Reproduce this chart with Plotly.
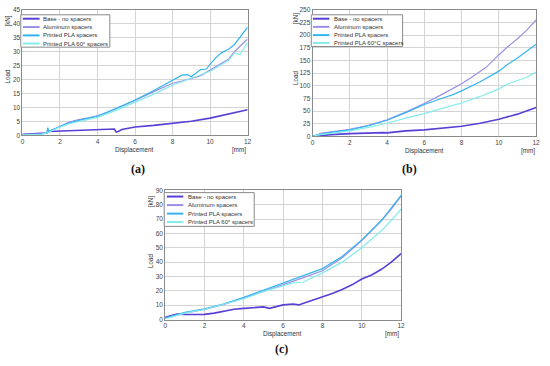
import plotly.graph_objects as go

W, H = 550, 366

names_a = ["Base - no spacers", "Aluminum spacers", "Printed PLA spacers", "Printed PLA 60° spacers"]
names_b = ["Base - no spacers", "Aluminum spacers", "Printed PLA spacers", "Printed PLA 60°C spacers"]
names_c = ["Base - no spacers", "Aluminum spacers", "Printed PLA spacers", "Printed PLA 60° spacers"]
colors = ["#5a3fd6", "#9b8fe3", "#35b4f0", "#84ecec"]
widths = [1.6, 1.2, 1.2, 1.2]

# ---- (a) ----
a_base_x = [0, 0.5, 1, 1.3, 1.4, 2, 3, 4, 4.8, 4.9, 5.0, 5.1, 5.3, 5.6, 6, 7, 8, 9, 10, 11, 12]
a_base_y = [0.4, 0.5, 0.7, 0.9, 1.4, 1.6, 1.9, 2.2, 2.5, 2.3, 1.2, 1.4, 2.1, 2.6, 3.0, 3.6, 4.3, 5.1, 6.2, 7.6, 9.2]
a_alu_x = [0, 0.5, 1, 1.3, 1.5, 2, 2.5, 3, 3.5, 4, 4.5, 5, 6, 7, 8, 8.5, 9, 9.3, 9.6, 10, 10.3, 10.6, 11, 11.3, 11.5, 11.8, 12]
a_alu_y = [0.3, 0.5, 0.6, 1.0, 1.7, 3.3, 4.8, 5.7, 6.3, 7.0, 8.2, 9.6, 12.5, 15.7, 18.7, 19.5, 20.4, 21.0, 21.8, 23.4, 24.3, 25.8, 27.4, 30.0, 31.2, 33.3, 34.6]
a_pla_x = [0, 0.5, 1, 1.3, 1.35, 1.4, 2, 2.5, 3, 3.5, 4, 5, 6, 7, 8, 8.5, 8.8, 9, 9.5, 9.8, 10, 10.3, 10.6, 11, 11.3, 11.6, 12]
a_pla_y = [0.2, 0.4, 0.5, 1.0, 2.8, 1.5, 3.2, 4.5, 5.4, 6.2, 6.9, 9.7, 12.7, 16.1, 19.6, 21.6, 21.8, 21.0, 23.6, 23.8, 25.5, 27.8, 29.6, 31.0, 32.6, 35.3, 38.8]
a_p60_x = [0, 0.5, 1, 1.3, 1.5, 2, 2.5, 3, 4, 5, 6, 7, 8, 9, 9.5, 10, 10.5, 11, 11.3, 11.6, 12]
a_p60_y = [0.2, 0.3, 0.4, 0.9, 1.5, 3.0, 4.2, 5.0, 6.5, 9.0, 11.8, 14.8, 18.0, 20.5, 21.8, 23.0, 25.0, 27.0, 29.6, 29.0, 33.3]

# ---- (b) ----
b_base_x = [0, 0.5, 1, 2, 3, 3.8, 4, 4.3, 5, 6, 7, 8, 9, 10, 11, 12]
b_base_y = [0, 2.5, 3.5, 5.5, 7.0, 7.5, 7.0, 8.5, 11, 13, 16, 20, 26, 34, 44, 57]
b_alu_x = [0, 0.5, 1, 2, 3, 4, 5, 6, 7, 8, 8.5, 9, 9.3, 10, 10.5, 11, 11.5, 12]
b_alu_y = [0, 6.5, 9, 14, 22, 33, 48, 65, 84, 104, 116, 129, 136, 161, 178, 193, 210, 230]
b_pla_x = [0, 0.5, 1, 2, 3, 4, 5, 6, 7, 7.5, 8, 9, 10, 10.5, 11, 11.5, 12]
b_pla_y = [0, 5, 8, 13, 21, 32, 47, 63, 76, 82, 90, 108, 129, 143, 155, 168, 182]
b_p60_x = [0, 0.5, 1, 2, 3, 4, 5, 6, 7, 8, 9, 10, 10.5, 11, 11.5, 12]
b_p60_y = [0, 4, 6, 11, 18, 26, 36, 45, 56, 66, 79, 94, 104, 111, 117, 127]

# ---- (c) ----
c_base_x = [0, 0.3, 0.6, 1, 1.5, 2, 2.5, 3, 3.5, 4, 4.5, 5, 5.3, 5.6, 6, 6.5, 6.8, 7, 7.5, 8, 8.5, 9, 9.5, 10, 10.5, 11, 11.5, 12]
c_base_y = [1.5, 2.5, 3.8, 3.5, 3.6, 3.6, 4.5, 6.0, 7.2, 7.8, 8.2, 8.8, 7.8, 9.0, 10.2, 10.8, 10.2, 11.2, 13.5, 16.0, 18.2, 21.0, 24.2, 28.2, 31.0, 35.0, 40.0, 46.0]
c_alu_x = [0, 0.5, 1, 2, 3, 4, 5, 6, 7, 8, 9, 10, 11, 11.5, 12]
c_alu_y = [1.0, 2.8, 4.5, 7.0, 10.5, 15.0, 19.5, 24.0, 29.0, 34.0, 43.0, 55.0, 69.0, 77.0, 86.0]
c_pla_x = [0, 0.5, 1, 2, 3, 4, 5, 6, 7, 8, 9, 10, 11, 11.5, 12]
c_pla_y = [1.0, 3.0, 5.0, 7.5, 11.0, 15.5, 20.5, 25.0, 30.0, 35.5, 44.0, 55.5, 69.0, 77.5, 86.5]
c_p60_x = [0, 0.5, 1, 2, 3, 4, 5, 6, 6.5, 7, 7.3, 8, 9, 10, 11, 11.5, 12]
c_p60_y = [0.5, 2.5, 4.5, 7.0, 10.5, 14.5, 19.5, 23.5, 25.5, 26.0, 28.0, 32.5, 40.0, 50.0, 62.0, 69.0, 77.0]

panels = [
    dict(xs=[a_base_x, a_alu_x, a_pla_x, a_p60_x], ys=[a_base_y, a_alu_y, a_pla_y, a_p60_y], names=names_a,
         px=(20.7, 248.3), py=(134, 6), yr=[0, 45], dt=5, cap="(a)", cap_xy=(137, 168),
         load=(6, 73), kn=(6, 17), disp=(133, 149), mm=(240, 149),
         leg_box=(19, 11, 109, 44), leg_rows=[15, 23.5, 32, 40.3], leg_line=(21, 38), leg_text=39.5),
    dict(xs=[b_base_x, b_alu_x, b_pla_x, b_p60_x], ys=[b_base_y, b_alu_y, b_pla_y, b_p60_y], names=names_b,
         px=(314, 540), py=(135, 6), yr=[0, 250], dt=25, cap="(b)", cap_xy=(412, 168),
         load=(296.7, 75), kn=(296.7, 15), disp=(426.7, 150), mm=(531.7, 150),
         leg_box=(312.7, 11, 405, 43.3), leg_rows=[15, 23.3, 31.7, 39.7], leg_line=(314.3, 331), leg_text=333.7),
    dict(xs=[c_base_x, c_alu_x, c_pla_x, c_p60_x], ys=[c_base_y, c_alu_y, c_pla_y, c_p60_y], names=names_c,
         px=(165, 403.5), py=(321.7, 190), yr=[0, 90], dt=10, cap="(c)", cap_xy=(283, 352),
         load=(150, 261.7), kn=(150, 201.7), disp=(283.3, 336), mm=(394.3, 336),
         leg_box=(164, 192.3, 255, 226.7), leg_rows=[196.3, 205, 213.7, 222.3], leg_line=(166.7, 183.3), leg_text=185.7),
]

def fx(p):
    return p / W

def fy(p):
    return 1 - p / H

fig = go.Figure()
annotations = []
shapes = []
font = "Liberation Sans, Arial, sans-serif"
tickfont = dict(family=font, size=6.5, color="#444")
lblfont = dict(family=font, size=6.3, color="#333")

def label(text, xy, fnt, angle=0, xanchor="center"):
    return dict(text=text, x=fx(xy[0]), y=fy(xy[1]), xref="paper", yref="paper", showarrow=False,
                textangle=angle, font=fnt, xanchor=xanchor, yanchor="middle")

for i, pn in enumerate(panels):
    suf = "" if i == 0 else str(i + 1)
    for k in range(4):
        fig.add_trace(go.Scatter(x=pn["xs"][k], y=pn["ys"][k], mode="lines", name=pn["names"][k],
                                 line=dict(color=colors[k], width=widths[k]),
                                 xaxis="x" + suf, yaxis="y" + suf, showlegend=False))
    common = dict(showline=True, linecolor="#8a8a8a", linewidth=1, mirror=True, showgrid=True,
                  gridcolor="#d4d4d4", gridwidth=1, zeroline=False, ticks="", tickfont=tickfont)
    fig.update_layout(**{
        "xaxis" + suf: dict(domain=[fx(pn["px"][0]), fx(pn["px"][1])], range=[0, 12], dtick=2,
                            anchor="y" + suf, **common),
        "yaxis" + suf: dict(domain=[fy(pn["py"][0]), fy(pn["py"][1])], range=pn["yr"], dtick=pn["dt"],
                            anchor="x" + suf, **common),
    })
    annotations.append(label("Load", pn["load"], lblfont, angle=-90))
    annotations.append(label("[kN]", pn["kn"], lblfont, angle=-90))
    annotations.append(label("Displacement", pn["disp"], lblfont))
    annotations.append(label("[mm]", pn["mm"], lblfont))
    annotations.append(label("<b>" + pn["cap"] + "</b>", pn["cap_xy"],
                             dict(family="Liberation Serif, DejaVu Serif, serif", size=12, color="#111")))
    # legend
    x0, y0, x1, y1 = pn["leg_box"]
    shapes.append(dict(type="rect", xref="paper", yref="paper", x0=fx(x0), x1=fx(x1), y0=fy(y1), y1=fy(y0),
                       line=dict(color="#8a8a8a", width=1), fillcolor="white", layer="above"))
    for k in range(4):
        ry = pn["leg_rows"][k]
        shapes.append(dict(type="line", xref="paper", yref="paper", x0=fx(pn["leg_line"][0]), x1=fx(pn["leg_line"][1]),
                           y0=fy(ry), y1=fy(ry), line=dict(color=colors[k], width=2), layer="above"))
        annotations.append(label(pn["names"][k], (pn["leg_text"], ry),
                                 dict(family=font, size=6, color="#333"), xanchor="left"))

fig.update_layout(width=W, height=H, margin=dict(l=0, r=0, t=0, b=0), paper_bgcolor="white",
                  plot_bgcolor="white", annotations=annotations, shapes=shapes, showlegend=False)
fig.write_html("out.html", config={"displayModeBar": False},
               post_script="document.body.style.margin='0';document.body.style.overflow='hidden';")
